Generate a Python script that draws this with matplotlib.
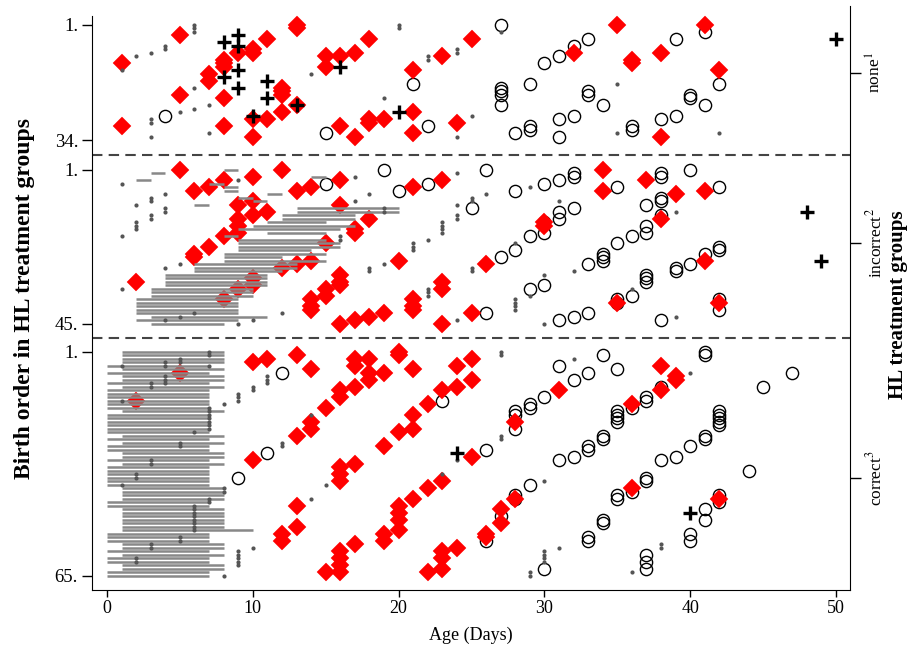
import matplotlib
matplotlib.use("Agg")
import matplotlib.pyplot as plt

plt.rcParams["font.family"] = ["Liberation Serif", "DejaVu Serif"]
plt.rcParams["mathtext.fontset"] = "stix"

# ── Data: (age in days, birth order) per HL treatment group ──────────

none_diamond = [(1, 12), (5, 4), (13, 1), (13, 2), (11, 5), (10, 8), (10, 9), (9, 9), (8, 11), (8, 12),
                (8, 13), (7, 15), (7, 17), (5, 21), (8, 22), (1, 30), (8, 30), (10, 28), (10, 33), (11, 28),
                (12, 19), (12, 20), (12, 21), (12, 26), (13, 24), (15, 10), (15, 13), (16, 10), (17, 9),
                (18, 5), (16, 30), (17, 33), (18, 28), (18, 29), (19, 28), (21, 14), (21, 26), (21, 32),
                (23, 10), (24, 29), (25, 5), (35, 1), (41, 1), (32, 9), (36, 11), (36, 12), (38, 9),
                (42, 14), (38, 33)]
none_circle = [(4, 27), (15, 32), (21, 18), (22, 30), (27, 1), (33, 5), (32, 7), (31, 10), (30, 12),
               (29, 18), (27, 19), (27, 20), (27, 21), (27, 24), (33, 20), (33, 21), (34, 24), (32, 27),
               (31, 28), (31, 33), (29, 30), (29, 31), (28, 32), (36, 30), (36, 31), (38, 28), (39, 27),
               (40, 21), (40, 22), (41, 24), (42, 18), (39, 5), (41, 3)]
none_plus = [(8, 6), (9, 4), (9, 7), (9, 14), (8, 16), (9, 19), (11, 17), (11, 22), (10, 27), (13, 24),
             (16, 13), (20, 26), (50, 5)]
none_dot = [(1, 14), (2, 10), (3, 9), (4, 7), (4, 8), (6, 1), (6, 2), (6, 3), (3, 28), (3, 29), (3, 33),
            (5, 26), (6, 25), (6, 19), (7, 24), (7, 32), (14, 15), (19, 22), (20, 1), (20, 2), (22, 10),
            (22, 11), (24, 8), (24, 9), (24, 33), (27, 3), (25, 27), (35, 18), (35, 32), (42, 32)]

incorrect_diamond = [(5, 1), (6, 7), (7, 6), (8, 4), (10, 3), (12, 1), (13, 7), (14, 6), (16, 4), (9, 11),
                     (10, 10), (10, 14), (11, 13), (9, 15), (9, 17), (9, 19), (8, 20), (7, 23), (6, 25),
                     (6, 26), (2, 33), (8, 38), (9, 35), (10, 32), (10, 34), (12, 29), (13, 28), (14, 27),
                     (15, 22), (16, 11), (17, 18), (17, 19), (18, 15), (20, 27), (21, 6), (23, 4), (16, 31),
                     (16, 33), (16, 34), (15, 35), (15, 37), (14, 38), (14, 40), (14, 41), (16, 45),
                     (17, 44), (18, 43), (19, 42), (21, 38), (21, 40), (21, 41), (23, 33), (23, 35),
                     (23, 45), (25, 42), (34, 1), (34, 7), (37, 4), (39, 8), (41, 7), (30, 16), (30, 17),
                     (38, 15), (26, 28), (35, 39), (41, 27), (42, 39)]
incorrect_circle = [(15, 5), (19, 1), (20, 7), (22, 5), (25, 12), (26, 1), (28, 7), (30, 5), (31, 4),
                    (32, 2), (32, 3), (35, 6), (38, 2), (38, 3), (40, 1), (42, 6), (37, 11), (38, 9),
                    (38, 10), (32, 12), (31, 13), (31, 15), (30, 16), (30, 19), (29, 20), (28, 24),
                    (27, 26), (26, 42), (31, 44), (32, 43), (33, 42), (29, 35), (30, 34), (33, 28),
                    (34, 25), (34, 26), (34, 27), (35, 22), (36, 20), (37, 17), (37, 19), (38, 14),
                    (35, 38), (35, 39), (36, 37), (37, 31), (37, 32), (37, 33), (39, 29), (39, 30),
                    (40, 28), (41, 25), (42, 23), (42, 24), (38, 44), (42, 38), (42, 41)]
incorrect_plus = [(48, 13), (49, 27)]
incorrect_dot = [(1, 5), (2, 11), (3, 9), (3, 10), (4, 8), (4, 12), (4, 13), (3, 14), (3, 15), (2, 16),
                 (2, 17), (2, 18), (1, 20), (4, 29), (5, 28), (1, 35), (9, 4), (12, 42), (10, 44), (9, 45),
                 (6, 42), (4, 44), (5, 43), (17, 3), (18, 8), (17, 10), (16, 20), (16, 21), (19, 12),
                 (19, 13), (18, 29), (18, 30), (19, 28), (21, 22), (21, 23), (21, 24), (22, 21), (23, 16),
                 (23, 17), (23, 18), (23, 19), (22, 35), (22, 36), (22, 37), (24, 2), (24, 11), (24, 14),
                 (24, 15), (24, 44), (25, 9), (25, 10), (26, 8), (29, 6), (31, 10), (28, 22), (39, 13),
                 (25, 29), (25, 30), (32, 30), (30, 31), (29, 37), (28, 38), (28, 39), (28, 40), (28, 41),
                 (30, 45), (36, 35), (39, 43)]
# (start day, end day) of the grey span, one per birth order 1..45
incorrect_span = [(8, 9), (3, 4), (14, 15), (2, 3), (7, 8), (8, 9), (8, 9), (11, 12), (9, 10), (10, 11),
                  (6, 7), (13, 20), (13, 20), (12, 17), (12, 17), (11, 15), (10, 17), (9, 16), (11, 15),
                  (8, 9), (9, 15), (9, 16), (9, 16), (9, 14), (8, 15), (8, 12), (8, 15), (6, 13), (6, 13),
                  (6, 12), (4, 11), (4, 11), (4, 11), (4, 11), (3, 10), (3, 10), (3, 10), (2, 9), (2, 9),
                  (2, 9), (2, 9), (2, 9), (3, 11), (2, 9), (3, 8)]

correct_diamond = [(5, 7), (2, 15), (10, 4), (11, 3), (13, 2), (14, 6), (17, 3), (17, 5), (18, 3), (18, 7),
                   (18, 9), (19, 7), (20, 1), (20, 2), (21, 6), (17, 11), (16, 12), (16, 14), (15, 17),
                   (14, 21), (14, 23), (13, 25), (10, 32), (24, 5), (24, 11), (23, 12), (22, 16), (21, 19),
                   (21, 23), (20, 24), (19, 28), (16, 34), (16, 36), (16, 38), (17, 33), (13, 45), (13, 51),
                   (12, 53), (12, 55), (16, 58), (16, 60), (16, 62), (16, 64), (17, 56), (15, 64), (20, 45),
                   (20, 47), (20, 49), (20, 52), (21, 43), (22, 40), (23, 38), (19, 53), (19, 55), (23, 58),
                   (23, 60), (22, 64), (23, 63), (24, 57), (25, 3), (25, 9), (31, 12), (28, 21), (25, 31),
                   (38, 5), (39, 8), (39, 9), (38, 12), (36, 16), (27, 46), (27, 50), (28, 43), (26, 53),
                   (26, 54), (36, 40), (42, 43)]
correct_circle = [(12, 7), (11, 30), (9, 37), (23, 15), (31, 5), (32, 9), (33, 7), (34, 2), (35, 6),
                  (30, 14), (29, 16), (29, 17), (28, 18), (28, 19), (28, 23), (26, 29), (31, 32), (32, 31),
                  (33, 28), (33, 29), (34, 25), (34, 26), (35, 18), (35, 19), (35, 20), (35, 21), (36, 17),
                  (37, 14), (37, 15), (38, 11), (41, 1), (41, 2), (45, 11), (47, 7), (29, 39), (28, 42),
                  (28, 43), (27, 48), (26, 55), (30, 63), (33, 54), (33, 55), (34, 49), (34, 50), (35, 42),
                  (35, 43), (36, 41), (37, 37), (37, 38), (38, 32), (39, 31), (40, 28), (41, 25), (41, 26),
                  (42, 18), (42, 19), (42, 20), (42, 21), (42, 22), (44, 35), (42, 42), (42, 44), (41, 46),
                  (41, 49), (40, 53), (40, 55), (37, 59), (37, 61), (37, 63)]
correct_plus = [(24, 30), (40, 47)]
correct_dot = [(7, 1), (7, 2), (5, 3), (5, 4), (4, 4), (4, 5), (1, 5), (7, 5), (4, 8), (4, 9), (4, 10),
               (3, 10), (3, 11), (1, 15), (8, 16), (9, 13), (9, 14), (9, 15), (10, 11), (10, 12), (11, 8),
               (11, 9), (11, 10), (7, 17), (7, 18), (7, 19), (7, 20), (7, 21), (7, 22), (7, 23), (6, 24),
               (5, 27), (5, 28), (3, 32), (3, 33), (2, 36), (2, 37), (1, 39), (8, 40), (8, 41), (7, 43),
               (7, 44), (6, 45), (6, 46), (6, 47), (6, 48), (6, 49), (6, 50), (6, 51), (6, 52), (5, 54),
               (5, 55), (3, 56), (3, 57), (2, 60), (2, 61), (9, 58), (9, 59), (9, 60), (9, 61), (9, 62),
               (10, 57), (8, 65), (14, 19), (12, 27), (12, 28), (15, 39), (14, 43), (23, 36), (24, 32),
               (27, 1), (27, 2), (32, 3), (40, 7), (27, 25), (27, 26), (30, 38), (31, 57), (30, 58),
               (30, 59), (30, 60), (30, 61), (29, 64), (29, 65), (36, 64), (38, 56), (38, 57)]
# (start day, end day) of the grey span, one per birth order 1..65
correct_span = [(1, 8), (1, 8), (1, 8), (1, 8), (0, 7), (1, 8), (0, 7), (1, 8), (1, 8), (0, 7), (1, 8),
                (0, 7), (0, 7), (0, 7), (0, 7), (0, 7), (0, 7), (1, 8), (0, 7), (0, 7), (0, 7), (0, 7),
                (0, 7), (0, 7), (1, 8), (0, 7), (1, 8), (0, 7), (0, 7), (1, 8), (1, 8), (0, 7), (1, 8),
                (0, 7), (0, 7), (0, 7), (0, 7), (0, 7), (0, 7), (1, 8), (1, 8), (1, 8), (1, 8),
                (0, 7), (0, 7), (1, 8), (1, 8), (1, 8), (1, 8), (1, 8), (1, 8), (1, 10), (0, 7), (0, 7),
                (0, 7), (1, 8), (1, 8), (0, 7), (1, 8), (0, 7), (0, 7), (1, 8), (1, 8), (0, 7), (0, 7)]

group_names = ["none", "incorrect", "correct"]
group_sizes = [34, 45, 65]
group_marks = ["none$^{1}$", "incorrect$^{2}$", "correct$^{3}$"]

# ── Layout of the stacked groups on one axis ─────────────────────────
OFFSET = {"none": 0.0, "incorrect": 41.4, "correct": 93.4}
SEPARATORS = [38.1, 90.4]
GROUP_TICKS = [14.7, 63.2, 130.4]

fig = plt.figure(figsize=(9.09, 6.57), dpi=100, facecolor="white")
ax = fig.add_axes([92 / 909, 67 / 657, 758 / 909, 584 / 657])
ax.set_xlim(-1.03, 50.96)
ax.set_ylim(162.43, -4.4)


def plot_points(pts, group, **kw):
    xs = [p[0] for p in pts]
    ys = [p[1] + OFFSET[group] for p in pts]
    ax.plot(xs, ys, linestyle="none", **kw)


def plot_spans(spans, group):
    for i, (a, b) in enumerate(spans):
        y = i + 1 + OFFSET[group]
        ax.plot([a, b], [y, y], color="#888888", lw=1.8, solid_capstyle="butt", zorder=4)


groups = {
    "none": (none_diamond, none_circle, none_plus, none_dot, None),
    "incorrect": (incorrect_diamond, incorrect_circle, incorrect_plus, incorrect_dot, incorrect_span),
    "correct": (correct_diamond, correct_circle, correct_plus, correct_dot, correct_span),
}

for g, (dia, circ, plus, dot, span) in groups.items():
    plot_points(circ, g, marker="o", ms=8.8, mfc="none", mec="black", mew=1.0, zorder=2)
    plot_points(dia, g, marker="D", ms=9.6, mfc="#ff0000", mec="#ff0000", mew=0.3, zorder=3)
    if span:
        plot_spans(span, g)
    plot_points(dot, g, marker="o", ms=3.0, mfc="#555555", mec="none", zorder=5)
    plot_points(plus, g, marker="+", ms=10.5, mec="black", mew=2.4, zorder=6)

for y in SEPARATORS:
    ax.axhline(y, color="#444444", lw=1.5, ls=(0, (5, 3)), zorder=1)

# Left axis: birth order labels
left_pos = []
left_lab = []
for name, n in zip(group_names, group_sizes):
    left_pos += [1 + OFFSET[name], n + OFFSET[name]]
    left_lab += ["1.", f"{n}."]
ax.set_yticks(left_pos)
ax.set_yticklabels(left_lab, fontsize=13.5)
ax.tick_params(axis="y", direction="out", length=7, width=1, pad=3)
ax.set_xticks(range(0, 51, 10))
ax.tick_params(axis="x", direction="out", length=5, width=1, labelsize=13, pad=2)
ax.set_xlabel("Age (Days)", fontsize=13, labelpad=7)
ax.set_ylabel("Birth order in HL treatment groups", fontsize=17, fontweight="bold", labelpad=14)
ax.spines["top"].set_visible(False)
ax.spines["right"].set_visible(False)
ax.spines["left"].set_bounds(162.43, -1.5)

# Right axis: group labels
ax2 = ax.twinx()
ax2.set_ylim(ax.get_ylim())
ax2.set_yticks(GROUP_TICKS)
ax2.set_yticklabels(group_marks, fontsize=12.5, rotation=90, va="center")
ax2.tick_params(axis="y", direction="out", length=8, width=1, pad=3)
ax2.spines["top"].set_visible(False)
ax2.spines["left"].set_visible(False)
ax2.spines["bottom"].set_visible(False)

fig.text(908 / 909, 1 - 305 / 657, "HL treatment groups", rotation=90, ha="right", va="center",
         fontsize=15, fontweight="bold")

fig.savefig("out.png", dpi=100)
